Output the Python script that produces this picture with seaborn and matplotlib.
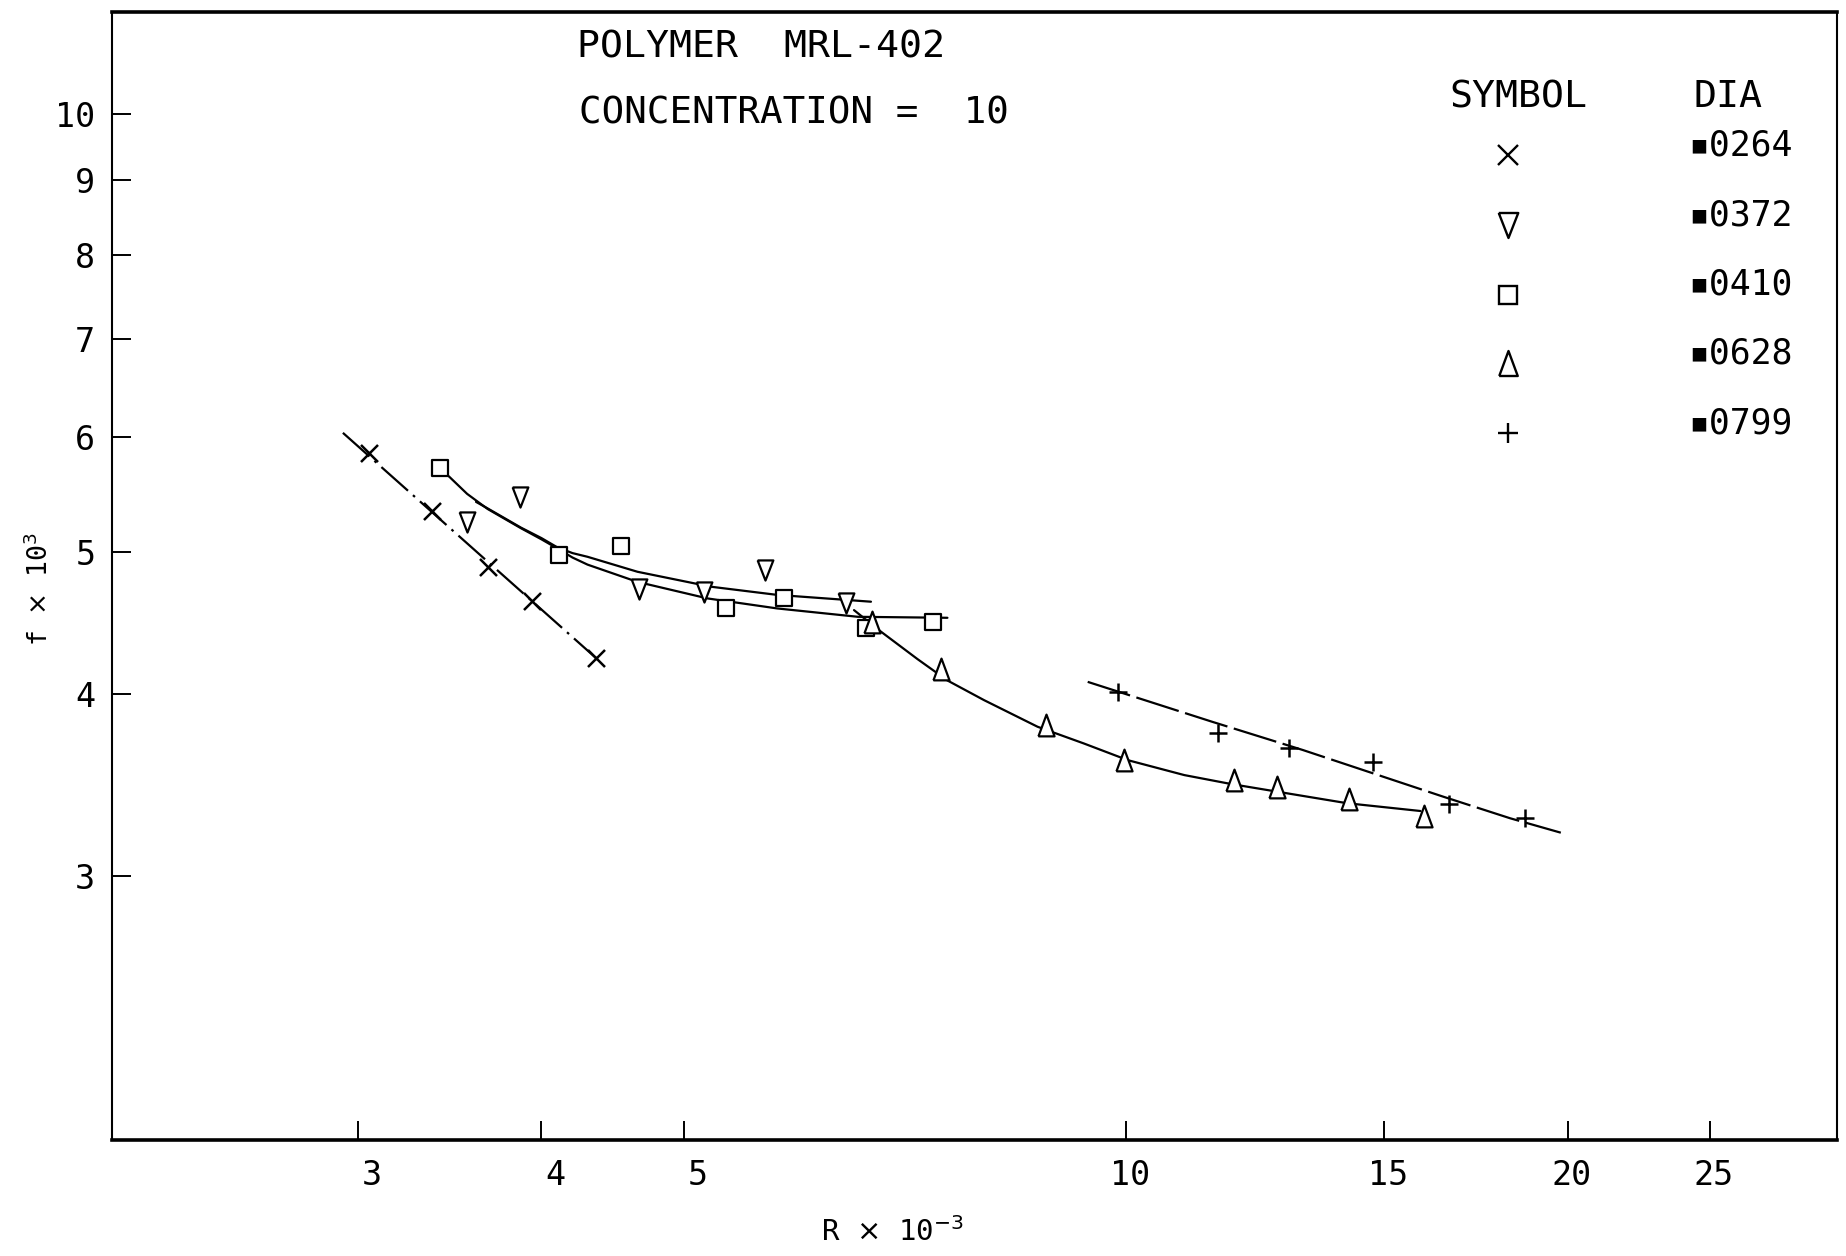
import numpy as np
import pandas as pd
import matplotlib
matplotlib.use("Agg")
import matplotlib.pyplot as plt
import seaborn as sns
from matplotlib.transforms import ScaledTranslation

# ---------------- data ----------------
dia_labels = ["\u25aa0264", "\u25aa0372", "\u25aa0410", "\u25aa0628", "\u25aa0799"]

x_0264 = [3.05, 3.37, 3.68, 3.94, 4.36]
f_0264 = [5.85, 5.34, 4.89, 4.63, 4.23]
x_0372 = [3.56, 3.87, 4.66, 5.16, 5.68, 6.45]
f_0372 = [5.25, 5.46, 4.72, 4.70, 4.86, 4.62]
x_0410 = [3.41, 4.11, 4.53, 5.34, 5.85, 6.65, 7.39]
f_0410 = [5.71, 4.98, 5.05, 4.58, 4.65, 4.44, 4.48]
x_0628 = [6.72, 7.49, 8.83, 9.97, 11.84, 12.67, 14.19, 15.97]
f_0628 = [4.48, 4.16, 3.81, 3.60, 3.49, 3.45, 3.39, 3.30]
x_0799 = [9.88, 11.55, 12.91, 14.73, 16.59, 18.71]
f_0799 = [4.01, 3.76, 3.67, 3.59, 3.36, 3.29]

# fitted curves as drawn on the chart
fit_x_0264 = [2.93, 4.36]
fit_f_0264 = [6.04, 4.23]
fit_x_0372 = [3.61, 3.677, 3.874, 4.0, 4.102, 4.2, 4.30, 4.65, 5.216, 5.79, 6.706]
fit_f_0372 = [5.416, 5.36, 5.20, 5.115, 5.04, 4.995, 4.966, 4.85, 4.737, 4.676, 4.626]
fit_x_0410 = [3.41, 3.462, 3.56, 3.677, 3.874, 4.0, 4.102, 4.2, 4.30, 4.65, 5.19,
              5.79, 6.57, 7.56]
fit_f_0410 = [5.71, 5.635, 5.485, 5.355, 5.195, 5.105, 5.031, 4.96, 4.905, 4.773,
              4.65, 4.577, 4.517, 4.51]
fit_x_0628 = [6.53, 6.79, 7.214, 7.56, 8.007, 8.708, 9.364, 10.03, 10.96, 11.79,
              12.68, 14.15, 15.87]
fit_f_0628 = [4.565, 4.423, 4.225, 4.085, 3.96, 3.797, 3.698, 3.602, 3.518, 3.469,
              3.427, 3.365, 3.324]
fit_x_0799 = [9.42, 11.45, 13.2, 16.45, 18.27, 19.78]
fit_f_0799 = [4.076, 3.827, 3.66, 3.40, 3.286, 3.212]

x_ticks = [3, 4, 5, 10, 15, 20, 25]
x_tick_labels = ["3", "4", "5", "10", "15", "20", "25"]
y_ticks = [3, 4, 5, 6, 7, 8, 9, 10]
y_tick_labels = ["3", "4", "5", "6", "7", "8", "9", "10"]

title1 = "POLYMER  MRL-402"
title2 = "CONCENTRATION =  10"

# ---------------- styling ----------------
sns.set_theme(style="white")
plt.rcParams["font.family"] = ["DejaVu Sans Mono", "DejaVu Sans"]
plt.rcParams["mathtext.fontset"] = "dejavusans"

W, H = 1846, 1256
fig = plt.figure(figsize=(W / 100, H / 100), dpi=100)
fig.patch.set_facecolor("white")
L, R, T, B = 112, 1837, 12, 1140
ax = fig.add_axes([L / W, 1 - B / H, (R - L) / W, (B - T) / H])
ax.set_facecolor("white")
ax.set_xscale("log")
ax.set_yscale("log")

ink = "black"
lw = 1.6

tri_up = [(-0.37, -0.5), (0.37, -0.5), (0.0, 0.5), (-0.37, -0.5)]
tri_dn = [(-0.39, 0.5), (0.39, 0.5), (0.0, -0.5), (-0.39, 0.5)]

def curve(xs, ys, **kw):
    d = pd.DataFrame({"x": xs, "y": ys})
    sns.lineplot(data=d, x="x", y="y", sort=False, estimator=None, ax=ax,
                 color=ink, lw=lw, zorder=2, **kw)

curve(fit_x_0264, fit_f_0264, dashes=(16, 3, 1.2, 3))
curve(fit_x_0372, fit_f_0372)
curve(fit_x_0410, fit_f_0410)
curve(fit_x_0628, fit_f_0628)
curve(fit_x_0799, fit_f_0799, dashes=(20, 3))

def pts(xs, ys, marker, s, filled=True):
    d = pd.DataFrame({"x": xs, "y": ys})
    if filled:
        sns.scatterplot(data=d, x="x", y="y", marker=marker, s=s, ax=ax,
                        facecolor="white", edgecolor=ink, linewidth=1.6, zorder=3)
    else:
        sns.scatterplot(data=d, x="x", y="y", marker=marker, s=s, ax=ax,
                        color=ink, linewidth=1.8, zorder=3)

pts(x_0264, f_0264, "x", 150, filled=False)
pts(x_0372, f_0372, tri_dn, 210)
pts(x_0410, f_0410, "s", 135)
pts(x_0628, f_0628, tri_up, 245)
pts(x_0799, f_0799, "+", 170, filled=False)

ax.set_xlim(2.04, 30.5)
ax.set_ylim(1.977, 11.74)
ax.minorticks_off()
ax.set_xticks(x_ticks)
ax.set_xticklabels(x_tick_labels)
ax.set_yticks(y_ticks)
ax.set_yticklabels(y_tick_labels)
ax.tick_params(axis="both", which="major", direction="in", length=14, width=1.4,
               color=ink, labelcolor=ink, labelsize=24,
               bottom=True, left=True, top=False, right=False)
ax.tick_params(axis="x", pad=14)
ax.tick_params(axis="y", pad=12)
ax.tick_params(which="minor", length=0)
off = ScaledTranslation(24 / 100, 0, fig.dpi_scale_trans)
for lab in ax.get_xticklabels():
    lab.set_horizontalalignment("right")
    lab.set_transform(lab.get_transform() + off)

for side, w in [("top", 2.6), ("bottom", 2.6), ("left", 1.5), ("right", 1.5)]:
    ax.spines[side].set_visible(True)
    ax.spines[side].set_color(ink)
    ax.spines[side].set_linewidth(w)
ax.grid(False)
ax.set_xlabel("")
ax.set_ylabel("")

def fx(x):
    return x / W

def fy(y):
    return 1 - y / H

fig.text(fx(892), fy(1232), r"R $\times$ 10$^{-3}$", ha="center", va="center",
         fontsize=21, color=ink)
fig.text(fx(40), fy(589), r"f $\times$ 10$^{3}$", ha="center", va="center",
         rotation=90, fontsize=19, color=ink)

fig.text(fx(577), fy(47), title1, ha="left", va="center", fontsize=27.5, color=ink)
fig.text(fx(579), fy(114), title2, ha="left", va="center", fontsize=27, color=ink)

# symbol table
fig.text(fx(1518), fy(97), "SYMBOL", ha="center", va="center", fontsize=27.5, color=ink)
fig.text(fx(1728), fy(97), "DIA", ha="center", va="center", fontsize=27.5, color=ink)
leg_markers = ["x", tri_dn, "s", tri_up, "+"]
leg_filled = [False, True, True, True, False]
leg_sizes = [14, 18, 13, 18, 15]
leg_y = [155, 225, 295, 363, 433]
val_y = [145, 216, 284, 354, 423]
for m, filled, ms, yy, vy, lab in zip(leg_markers, leg_filled, leg_sizes, leg_y,
                                      val_y, dia_labels):
    ax.plot([fx(1508)], [fy(yy)], marker=m, ms=ms, transform=fig.transFigure,
            clip_on=False, ls="none", color=ink,
            mfc="white" if filled else ink, mec=ink, mew=1.7)
    fig.text(fx(1688), fy(vy), lab, ha="left", va="center", fontsize=25,
             color=ink, family=["DejaVu Sans Mono", "DejaVu Sans"])

fig.savefig("out.png", dpi=100, facecolor="white")
